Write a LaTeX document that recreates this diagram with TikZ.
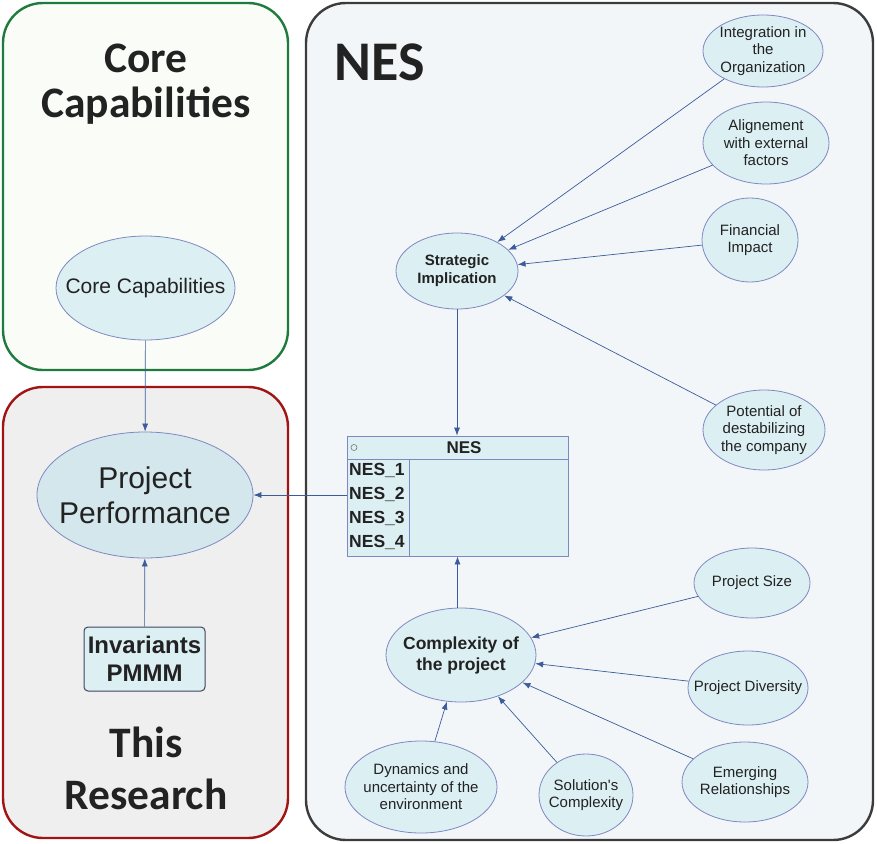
\documentclass[tikz,border=0pt]{standalone}
\usepackage{fontspec}
\setmainfont{Liberation Sans}
\newfontfamily\plainfont{Liberation Sans}
\newfontfamily\headfont{Carlito}
\usetikzlibrary{shapes.geometric,arrows.meta}
\definecolor{ellfill}{HTML}{DCEFF3}
\definecolor{ppfill}{HTML}{D3E7EC}
\definecolor{ellborder}{HTML}{7F88C2}
\definecolor{arrcol}{HTML}{3C5C9C}
\definecolor{nesfill}{HTML}{F2F6F8}
\definecolor{nesline}{HTML}{3C3C3C}
\definecolor{redfill}{HTML}{EFEFEF}
\definecolor{redline}{HTML}{A01414}
\definecolor{greenfill}{HTML}{FAFDF7}
\definecolor{greenline}{HTML}{1E7A3E}
\definecolor{txt}{HTML}{222222}
\begin{document}
\begin{tikzpicture}[x=1pt,y=-1pt,
  zone/.style={line width=2.4pt,rounded corners=40pt},
  bubble/.style={ellipse,draw=ellborder,fill=ellfill,line width=0.8pt,inner sep=-30pt,
    text=txt,align=center,font=\fontsize{15}{17.5}\selectfont},
  bigtitle/.style={text=txt,align=center,font=\headfont\bfseries\fontsize{43.5}{45}\selectfont},
  arr/.style={draw=arrcol,line width=0.7pt,-{Latex[length=8pt,width=6pt]}},
  rowtxt/.style={anchor=west,text=txt,font=\bfseries\fontsize{17.5}{20}\selectfont,inner sep=0pt}
]
\useasboundingbox (0,0) rectangle (877,843);
% zones
\draw[zone,draw=greenline,fill=greenfill] (3,3) rectangle (288,370);
\draw[zone,draw=redline,fill=redfill] (3,387) rectangle (288,838);
\draw[zone,draw=nesline,fill=nesfill] (306,3) rectangle (873,840);
% titles
\node[bigtitle] (tcore) at (146,84) {Core\\Capabilities};
\node[bigtitle,font=\headfont\bfseries\fontsize{43.5}{52}\selectfont] (tres) at (146,768) {This\\Research};
\node[text=txt,font=\headfont\bfseries\fontsize{56}{62}\selectfont] (tnes) at (380,62) {NES};
% left nodes
\node[bubble,minimum width=179pt,minimum height=104pt,font=\fontsize{21}{25}\selectfont] (cc) at (145.5,288) {Core Capabilities};
\node[bubble,minimum width=216pt,minimum height=126pt,fill=ppfill,font=\fontsize{30}{35}\selectfont] (pp) at (145,495) {Project\\Performance};
\node[draw=ellborder!50!black,fill=ellfill,line width=1pt,rounded corners=4pt,minimum width=121pt,minimum height=64pt,inner sep=0pt,align=center,text=txt,font=\bfseries\fontsize{24}{28}\selectfont] (inv) at (144.5,659) {Invariants\\PMMM};
% NES nodes
\node[bubble,minimum width=122pt,minimum height=76pt,font=\bfseries\fontsize{15}{18}\selectfont] (si) at (457,271) {Strategic\\Implication};
\node[bubble,minimum width=120pt,minimum height=72pt] (integ) at (763,51) {Integration in\\the\\Organization};
\node[bubble,minimum width=126pt,minimum height=82pt] (align) at (766,143) {Alignement\\with external\\factors};
\node[bubble,minimum width=96pt,minimum height=84pt] (fin) at (750,240) {Financial\\Impact};
\node[bubble,minimum width=122pt,minimum height=80pt] (pot) at (764,430) {Potential of\\destabilizing\\the company};
\node[bubble,minimum width=150pt,minimum height=94pt,font=\bfseries\fontsize{17.5}{21}\selectfont] (cplx) at (461,655) {Complexity of\\the project};
\node[bubble,minimum width=116pt,minimum height=70pt] (psize) at (752,583) {Project Size};
\node[bubble,minimum width=120pt,minimum height=74pt] (pdiv) at (748,688) {Project Diversity};
\node[bubble,minimum width=126pt,minimum height=80pt] (emer) at (745,782) {Emerging\\Relationships};
\node[bubble,minimum width=94pt,minimum height=82pt] (sol) at (586,795) {{\plainfont Solution's}\\Complexity};
\node[bubble,minimum width=152pt,minimum height=92pt] (dyn) at (421,787) {Dynamics and\\uncertainty of the\\environment};
% NES table
\node[draw=ellborder,fill=ellfill,line width=0.8pt,minimum width=221pt,minimum height=120pt,inner sep=0pt] (nes) at (457.5,496) {};
\coordinate (hl) at (347,459);
\coordinate (hr) at (568,459);
\coordinate (ct) at (409,459);
\coordinate (cb) at (409,556);
\draw[draw=ellborder,line width=0.8pt] (hl) -- (hr);
\draw[draw=ellborder,line width=0.8pt] (ct) -- (cb);
\node[text=txt,font=\bfseries\fontsize{17}{20}\selectfont,inner sep=0pt] (nestitle) at (464,447.5) {NES};
\node[circle,draw=txt!70,line width=0.5pt,minimum size=6pt,inner sep=0pt] (nescirc) at (354,447.5) {};
\node[rowtxt] (r1) at (349,470) {NES\_1};
\node[rowtxt] (r2) at (349,494) {NES\_2};
\node[rowtxt] (r3) at (349,518) {NES\_3};
\node[rowtxt] (r4) at (349,542) {NES\_4};
% connectors
\draw[arr] (cc) -- (pp);
\draw[arr] (inv) -- (pp);
\draw[arr] (nes.west |- pp) -- (pp.east);
\draw[arr] (si) -- (nes.north -| si);
\draw[arr] (cplx.north -| nes.south) -- (nes.south);
\draw[arr] (integ) -- (si);
\draw[arr] (align) -- (si);
\draw[arr] (fin) -- (si);
\draw[arr] (pot) -- (si);
\draw[arr] (psize) -- (cplx);
\draw[arr] (pdiv) -- (cplx);
\draw[arr] (emer) -- (cplx);
\draw[arr] (sol) -- (cplx);
\draw[arr] (dyn) -- (cplx);
\end{tikzpicture}
\end{document}
